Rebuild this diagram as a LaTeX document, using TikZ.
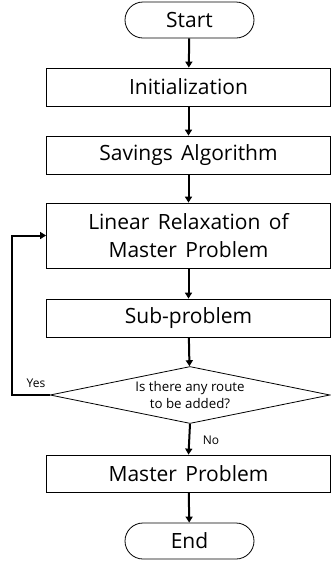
\documentclass[tikz,border=0pt]{standalone}
\usepackage{fontspec}
\setmainfont{Open Sans}
\usetikzlibrary{shapes.geometric,arrows.meta}
\newcommand{\mainsz}{\fontsize{21}{28}\selectfont\spaceskip=0.4em\relax}
\tikzset{
  term/.style={draw, line width=0.8pt, rounded corners=18pt, minimum width=129pt, minimum height=36pt, inner sep=0pt, font=\mainsz},
  procbox/.style={draw, line width=0.8pt, minimum width=284pt, minimum height=38pt, inner sep=0pt, align=center, font=\mainsz},
  decbox/.style={draw, line width=0.8pt, diamond, aspect=4.9, minimum width=280pt, minimum height=57pt, inner sep=0pt, align=center, font=\fontsize{13.3}{17}\selectfont},
  arr/.style={line width=2pt, -{Triangle[length=6pt,width=7pt]}},
  lbl/.style={font=\fontsize{12}{14}\selectfont, inner sep=0pt}
}
\begin{document}
\begin{tikzpicture}[x=1pt,y=-1pt]
\useasboundingbox (0,0) rectangle (331,563);
\node[term] (start) at (189.5,20) {Start};
\node[procbox] (init) at (188.5,87) {Initialization};
\node[procbox] (sav) at (188.5,155) {Savings Algorithm};
\node[procbox, minimum height=65pt] (lin) at (188.5,235.5) {Linear Relaxation of\\Master Problem};
\node[procbox] (sub) at (188.5,318) {Sub-problem};
\node[decbox] (dec) at (190,395) {Is there any route\\to be added?};
\node[procbox, minimum height=37pt] (mast) at (188.5,473.5) {Master Problem};
\node[term] (end) at (189.5,541) {End};
\draw[arr] (start) -- (init);
\draw[arr] (init) -- (sav);
\draw[arr] (sav) -- (lin);
\draw[arr] (lin) -- (sub);
\draw[arr] (sub) -- (dec);
\draw[arr] (dec.south) -- (mast.north);
\draw[arr] (mast) -- (end);
\coordinate (lc) at (12,395);
\draw[arr] (dec.west) -- (lc) |- (lin.west);
\node[lbl] (yes) at (36,383) {Yes};
\node[lbl] (no) at (211,440) {No};
\end{tikzpicture}
\end{document}
